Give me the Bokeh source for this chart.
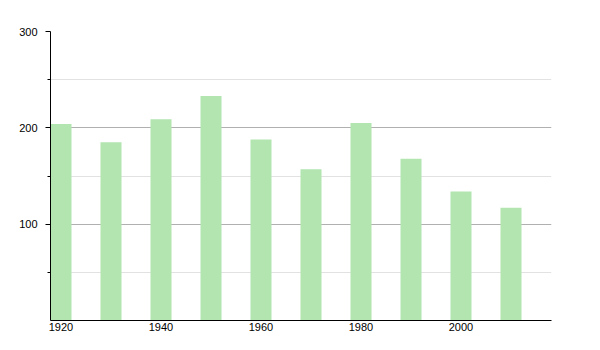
from bokeh.plotting import figure
from bokeh.models import Range1d, FixedTicker, ColumnDataSource
from bokeh.embed import file_html
from bokeh.resources import INLINE

years = [1920, 1930, 1940, 1950, 1960, 1970, 1980, 1990, 2000, 2010]
population = [204, 185, 209, 233, 188, 157, 205, 168, 134, 117]
x_ticks = [1920, 1940, 1960, 1980, 2000]
y_ticks = [100, 200, 300]
y_minor = [50, 150, 250]

src = ColumnDataSource(dict(x=years, top=population))

p = figure(width=600, height=350, output_backend="svg", toolbar_location=None,
           x_range=Range1d(1917.9, 2018.1), y_range=Range1d(0, 300),
           min_border_left=50, min_border_right=49, min_border_top=31, min_border_bottom=30)
p.outline_line_color = None
p.background_fill_color = "white"
p.border_fill_color = "white"

p.vbar(x="x", top="top", width=4.2, bottom=0, source=src,
       fill_color="#b2e5b0", line_color=None)

p.yaxis.ticker = FixedTicker(ticks=y_ticks, minor_ticks=y_minor)
p.xaxis.ticker = FixedTicker(ticks=x_ticks)

for ax in (p.xaxis, p.yaxis):
    ax.axis_line_color = "black"
    ax.axis_line_width = 1
    ax.major_label_text_font = "Liberation Sans"
    ax.major_label_text_font_size = "11px"
    ax.major_label_text_color = "black"

p.yaxis.major_tick_out = 5
p.yaxis.major_tick_in = 0
p.yaxis.minor_tick_out = 3
p.yaxis.minor_tick_in = 0
p.yaxis.major_tick_line_color = "black"
p.yaxis.minor_tick_line_color = "black"
p.yaxis.major_label_standoff = 8

p.xaxis.major_tick_out = 0
p.xaxis.major_tick_in = 0
p.xaxis.minor_tick_line_color = None
p.xaxis.major_tick_line_color = None
p.xaxis.major_label_standoff = 2

p.xgrid.grid_line_color = None
p.ygrid.grid_line_color = "#b0b0b0"
p.ygrid.minor_grid_line_color = "#e2e2e2"

open("out.html", "w").write(file_html(p, INLINE))
